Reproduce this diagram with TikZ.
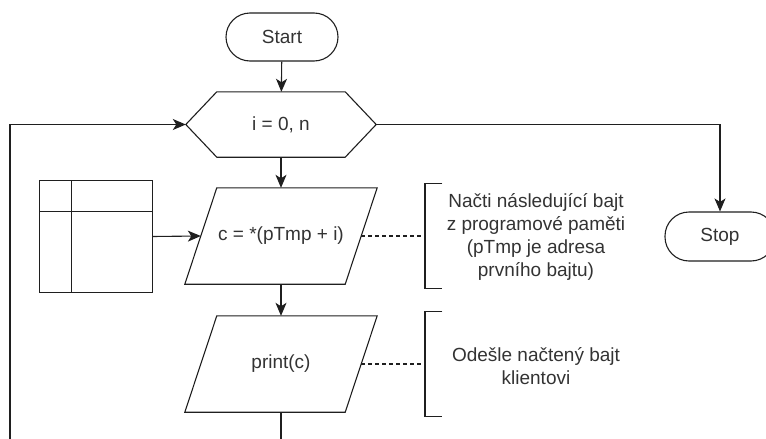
\documentclass[tikz,border=0pt]{standalone}
\usepackage{fontspec}
\setmainfont{Liberation Sans}
\usetikzlibrary{arrows.meta}
\begin{document}
\begin{tikzpicture}[x=1pt,y=-1pt,
  every node/.style={font=\fontsize{19}{23}\selectfont, text=black!80},
  line/.style={line width=1.1pt, draw=black!88},
  flow/.style={line, -{Stealth[length=13pt,width=11pt,inset=3.5pt]}},
  terminal/.style={line, rounded corners=24pt, minimum width=112pt, minimum height=48pt, inner sep=0pt},
  frame/.style={draw=none, inner sep=0pt},
  note/.style={align=center, inner sep=0pt},
  link/.style={line, dash pattern=on 4pt off 3pt}
]
\clip (0,0) rectangle (766,439);

% terminals
\node[terminal] (start) at (282,37) {Start};
\node[terminal, minimum width=110pt, minimum height=49pt] (stop) at (720,236.5) {Stop};

% loop header (hexagon)
\node[frame, minimum width=190pt, minimum height=65pt] (loop) at (281,124.5) {i = 0, n};
\draw[line] ([xshift=31pt]loop.north west) -- ([xshift=-31pt]loop.north east) -- (loop.east)
  -- ([xshift=-31pt]loop.south east) -- ([xshift=31pt]loop.south west) -- (loop.west) -- cycle;

% input / output parallelograms
\node[frame, minimum width=192pt, minimum height=96pt] (read) at (281,236) {c = *(pTmp + i)};
\draw[line] ([xshift=32pt]read.north west) -- (read.north east)
  -- ([xshift=-32pt]read.south east) -- (read.south west) -- cycle;

\node[frame, minimum width=192pt, minimum height=96pt] (print) at (281,364) {print(c)};
\draw[line] ([xshift=32pt]print.north west) -- (print.north east)
  -- ([xshift=-32pt]print.south east) -- (print.south west) -- cycle;

% internal storage symbol
\node[frame, minimum width=112pt, minimum height=111pt] (mem) at (96,236.5) {};
\draw[line] (mem.north west) rectangle (mem.south east);
\draw[line] ([xshift=32pt]mem.north west) -- ([xshift=32pt]mem.south west);
\draw[line] ([yshift=-31pt]mem.north west) -- ([yshift=-31pt]mem.north east);

% annotations
\node[frame, minimum width=17pt, minimum height=104pt, anchor=west] (b1) at (425,236) {};
\draw[line] (b1.north east) -- (b1.north west) -- (b1.south west) -- (b1.south east);
\node[note] (t1) at (536,237) {Načti následující bajt\\z programové paměti\\(pTmp je adresa\\prvního bajtu)};

\node[frame, minimum width=17pt, minimum height=104pt, anchor=west] (b2) at (425,364) {};
\draw[line] (b2.north east) -- (b2.north west) -- (b2.south west) -- (b2.south east);
\node[note] (t2) at (536,366) {Odešle načtený bajt\\klientovi};

\draw[link] ([xshift=-16pt]read.east) -- (b1.west);
\draw[link] ([xshift=-16pt]print.east) -- (b2.west);

% flow
\coordinate (back) at (10,460);
\draw[flow] (start) -- (loop);
\draw[flow] (loop) -- (read);
\draw[flow] (read) -- (print);
\draw[flow] (mem.east) -- ([xshift=16pt]read.west);
\draw[flow] (loop.east) -| (stop.north);
\draw[flow] (print.south) |- (back) |- (loop.west);
\end{tikzpicture}
\end{document}
